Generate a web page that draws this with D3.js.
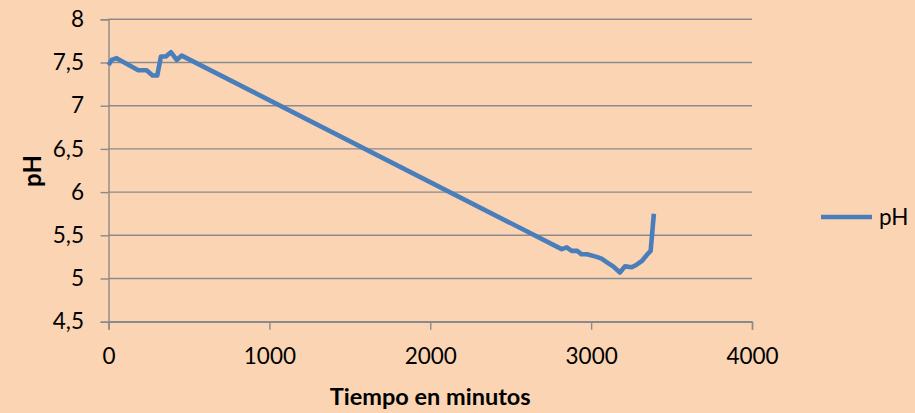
<!DOCTYPE html>
<html>
<head>
<meta charset="utf-8">
<script src="https://cdn.jsdelivr.net/npm/d3@7/dist/d3.min.js"></script>
<style>
  html, body { margin: 0; padding: 0; background: #FBD4B4; }
  svg { display: block; }
  text { font-family: Lato, "Open Sans", sans-serif; fill: #000; }
</style>
</head>
<body>
<svg id="chart" width="915" height="413"></svg>
<script>
// pH readings over time (minutes)
const minutes = [0, 20, 50, 185, 237, 274, 303, 326, 357, 388, 424, 455,
                 2817, 2848, 2879, 2913, 2941, 2975, 3034, 3065, 3096, 3137,
                 3179, 3210, 3252, 3283, 3314, 3345, 3370, 3390];
const phValues = [7.47, 7.53, 7.55, 7.41, 7.41, 7.35, 7.35, 7.57, 7.57, 7.62, 7.53, 7.58,
                  5.34, 5.36, 5.32, 5.32, 5.28, 5.28, 5.25, 5.23, 5.19, 5.14,
                  5.07, 5.14, 5.13, 5.16, 5.20, 5.27, 5.32, 5.75];

const xTicks = [0, 1000, 2000, 3000, 4000];
const yTicks = [4.5, 5, 5.5, 6, 6.5, 7, 7.5, 8];

const seriesName = "pH";
const xTitle = "Tiempo en minutos";
const yTitle = "pH";

const points = minutes.map((t, i) => ({ t, v: phValues[i] }));

const svg = d3.select("#chart");
const plot = { left: 108.5, right: 752, top: 19.3, bottom: 321.7 };

const x = d3.scaleLinear().domain([0, 4000]).range([plot.left, plot.right]);
const y = d3.scaleLinear().domain([4.5, 8]).range([plot.bottom, plot.top]);

const gridColor = "#8a8a8a";
const lineColor = "#4A7EBB";

const esLocale = d3.formatLocale({ decimal: ",", thousands: ".", grouping: [3], currency: ["", " €"] });
const fmtY = esLocale.format("~g");
const fmtX = esLocale.format("d");

// horizontal gridlines
svg.append("g")
  .selectAll("line")
  .data(yTicks)
  .join("line")
  .attr("x1", plot.left)
  .attr("x2", plot.right)
  .attr("y1", d => y(d))
  .attr("y2", d => y(d))
  .attr("stroke", gridColor)
  .attr("stroke-width", 1.4);

// y axis
const yAxis = svg.append("g")
  .attr("transform", `translate(${plot.left},0)`)
  .call(d3.axisLeft(y).tickValues(yTicks).tickSize(8).tickPadding(16.5).tickFormat(fmtY));
yAxis.select(".domain").attr("stroke", gridColor).attr("stroke-width", 1.4);
yAxis.selectAll(".tick line").attr("stroke", gridColor).attr("stroke-width", 1.4);
yAxis.selectAll(".tick text").attr("font-size", 22.5).attr("font-family", "Lato, sans-serif").attr("fill", "#000");

// x axis
const xAxis = svg.append("g")
  .attr("transform", `translate(0,${plot.bottom})`)
  .call(d3.axisBottom(x).tickValues(xTicks).tickSize(8).tickPadding(18).tickFormat(fmtX));
xAxis.select(".domain").attr("stroke", gridColor).attr("stroke-width", 1.4);
xAxis.selectAll(".tick line").attr("stroke", gridColor).attr("stroke-width", 1.4);
xAxis.selectAll(".tick text").attr("font-size", 22.5).attr("font-family", "Lato, sans-serif").attr("fill", "#000");

// series line
const line = d3.line().x(d => x(d.t)).y(d => y(d.v));
svg.append("path")
  .datum(points)
  .attr("d", line)
  .attr("fill", "none")
  .attr("stroke", lineColor)
  .attr("stroke-width", 4.6)
  .attr("stroke-linejoin", "round")
  .attr("stroke-linecap", "butt");

// axis titles
svg.append("text")
  .attr("x", (plot.left + plot.right) / 2)
  .attr("y", 405)
  .attr("text-anchor", "middle")
  .attr("font-size", 23.5)
  .attr("font-weight", "bold")
  .text(xTitle);

svg.append("text")
  .attr("transform", `translate(41,171) rotate(-90)`)
  .attr("text-anchor", "middle")
  .attr("font-size", 24)
  .attr("font-weight", "bold")
  .text(yTitle);

// legend
const legend = svg.append("g").attr("transform", "translate(821,217)");
legend.append("line")
  .attr("x1", 0).attr("x2", 51)
  .attr("y1", 0).attr("y2", 0)
  .attr("stroke", lineColor)
  .attr("stroke-width", 4.6);
legend.append("text")
  .attr("x", 58)
  .attr("y", 0)
  .attr("dy", "0.35em")
  .attr("font-size", 22.5)
  .text(seriesName);
</script>
</body>
</html>
